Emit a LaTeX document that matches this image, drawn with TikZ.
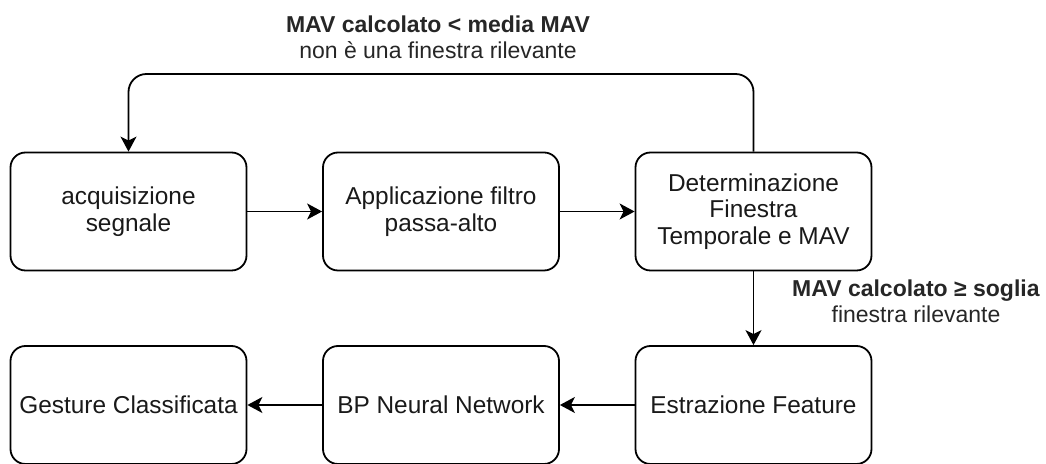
\documentclass[tikz,border=0pt]{standalone}
\usepackage{fontspec}
\setmainfont{Liberation Sans}
\usetikzlibrary{arrows.meta}

\tikzset{
  blocco/.style={draw, rounded corners=7.5pt, line width=0.9pt,
    minimum width=118pt, minimum height=59pt, align=center,
    inner sep=1pt, text=black!90,
    font=\fontsize{12.2pt}{13.3pt}\selectfont},
  freccia/.style={-{Stealth[length=7.5pt,width=8pt,inset=2pt]}, line width=0.9pt},
  etichetta/.style={align=center, text=black!85,
    font=\fontsize{11.5pt}{13pt}\selectfont}
}

\begin{document}
\begin{tikzpicture}[x=0.5pt, y=-0.5pt]
  \useasboundingbox (0,0) rectangle (1046,464);

  % blocchi riga superiore
  \node[blocco] (acq) at (128.5,211.5) {acquisizione\\segnale};
  \node[blocco] (filtro) at (441,211.5) {Applicazione filtro\\passa-alto};
  \node[blocco] (finestra) at (753.5,211.5) {Determinazione\\Finestra\\Temporale e MAV};

  % blocchi riga inferiore
  \node[blocco] (feature) at (753.5,405) {Estrazione Feature};
  \node[blocco] (rete) at (441,405) {BP Neural Network};
  \node[blocco] (gesture) at (128.5,405) {Gesture Classificata};

  % frecce
  \draw[freccia] (acq) -- (filtro);
  \draw[freccia] (filtro) -- (finestra);
  \draw[freccia] (finestra) -- (feature);
  \draw[freccia] (feature) -- (rete);
  \draw[freccia] (rete) -- (gesture);

  % ritorno: finestra non rilevante
  \coordinate (alto) at (753.5,74);
  \draw[freccia, rounded corners=9pt] (finestra.north) -- (alto) -| (acq.north);
  \node[etichetta] (nonril) at (438,37) {\textbf{MAV calcolato < media MAV}\\non è una finestra rilevante};

  % condizione finestra rilevante
  \node[etichetta] (ril) at (916,301) {\textbf{MAV calcolato ≥ soglia}\\finestra rilevante};
\end{tikzpicture}
\end{document}
